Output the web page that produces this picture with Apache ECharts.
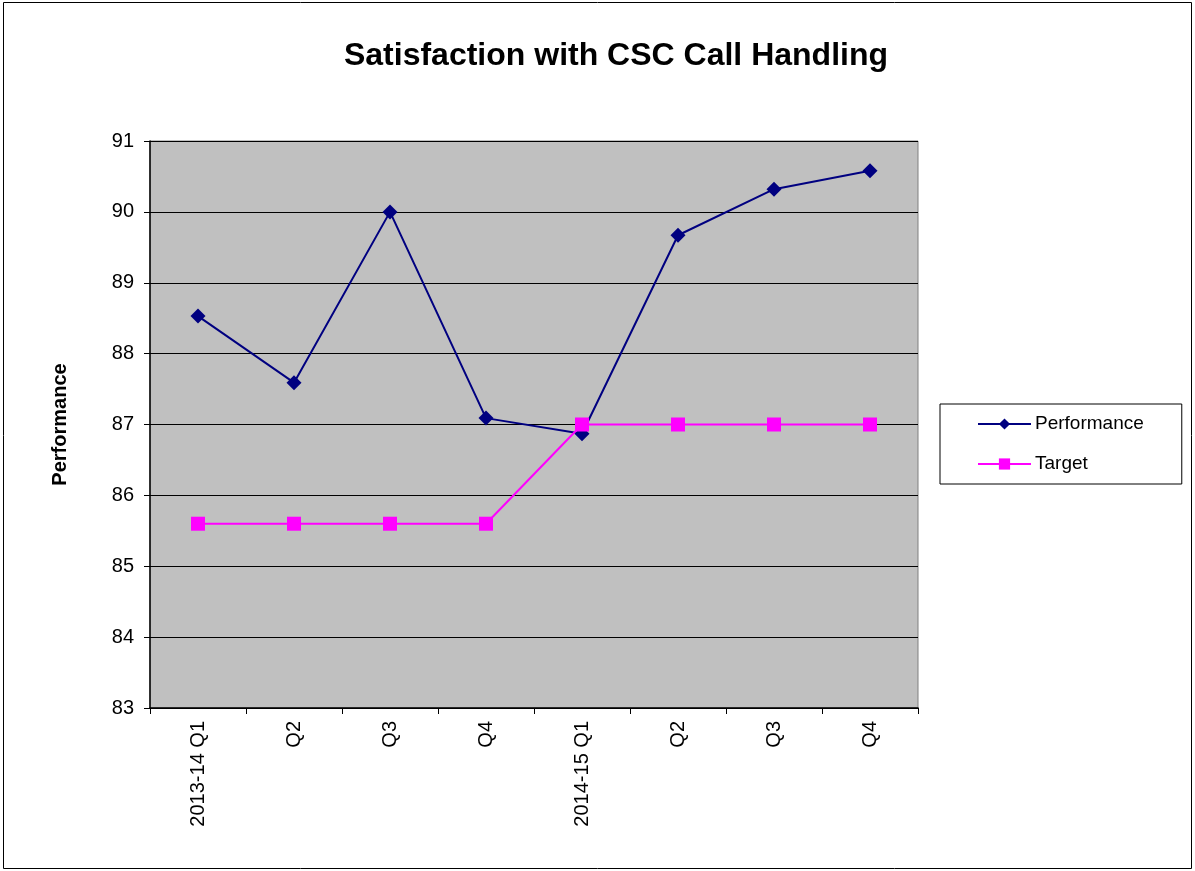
<!DOCTYPE html>
<html>
<head>
<meta charset="utf-8">
<title>Satisfaction with CSC Call Handling</title>
<script src="https://cdn.jsdelivr.net/npm/echarts@6/dist/echarts.min.js"></script>
<style>
  html, body { margin: 0; padding: 0; background: #fff; }
  #chart { width: 1195px; height: 871px; }
</style>
</head>
<body>
<div id="chart"></div>
<script>
// Quarterly call-handling satisfaction versus target
const quarters = ['2013-14 Q1', 'Q2', 'Q3', 'Q4', '2014-15 Q1', 'Q2', 'Q3', 'Q4'];
const performance = [88.53, 87.59, 90.0, 87.09, 86.87, 89.67, 90.32, 90.58];
const target = [85.6, 85.6, 85.6, 85.6, 87.0, 87.0, 87.0, 87.0];
const yTicks = { min: 83, max: 91, step: 1 };

const font = '"Liberation Sans", Arial, sans-serif';
const chart = echarts.init(document.getElementById('chart'), null, { renderer: 'canvas' });

chart.setOption({
  backgroundColor: '#ffffff',
  animation: false,
  title: {
    text: 'Satisfaction with CSC Call Handling',
    left: 611,
    top: 35,
    textAlign: 'center',
    textStyle: { fontFamily: font, fontSize: 32, fontWeight: 'bold', color: '#000' }
  },
  graphic: [{
    type: 'rect',
    shape: { x: 3.5, y: 2.5, width: 1188, height: 866 },
    style: { fill: 'none', stroke: '#000', lineWidth: 1 },
    silent: true,
    z: -1
  }],
  legend: {
    orient: 'vertical',
    left: 940,
    top: 404,
    padding: [10, 38, 10, 37],
    itemGap: 20,
    itemWidth: 53,
    itemHeight: 14,
    backgroundColor: '#fff',
    borderColor: '#000',
    borderWidth: 1,
    borderRadius: 0,
    textStyle: { fontFamily: font, fontSize: 19, color: '#000', lineHeight: 20, padding: [0, 0, 0, -1] },
    data: ['Performance', 'Target']
  },
  grid: {
    left: 150,
    top: 141,
    width: 768,
    height: 567,
    show: true,
    backgroundColor: '#c0c0c0',
    borderColor: '#808080',
    borderWidth: 1
  },
  xAxis: {
    type: 'category',
    data: quarters,
    boundaryGap: true,
    axisLine: { show: true, lineStyle: { color: '#000', width: 1.5 } },
    axisTick: { show: true, length: 6, alignWithLabel: false, lineStyle: { color: '#000' } },
    axisLabel: {
      rotate: 90,
      margin: 13,
      interval: 0,
      fontFamily: font,
      fontSize: 20,
      color: '#000'
    },
    splitLine: { show: false }
  },
  yAxis: {
    type: 'value',
    min: yTicks.min,
    max: yTicks.max,
    interval: yTicks.step,
    name: 'Performance',
    nameLocation: 'middle',
    nameRotate: 90,
    nameGap: 80,
    nameTextStyle: { fontFamily: font, fontSize: 20, fontWeight: 'bold', color: '#000' },
    axisLine: { show: true, lineStyle: { color: '#000', width: 1.5 } },
    axisTick: { show: true, length: 6, inside: false, lineStyle: { color: '#000' } },
    axisLabel: { fontFamily: font, fontSize: 20, color: '#000', margin: 16 },
    splitLine: { show: true, lineStyle: { color: '#000', width: 1 } }
  },
  series: [
    {
      name: 'Performance',
      type: 'line',
      data: performance,
      symbol: 'diamond',
      symbolSize: 15,
      lineStyle: { color: '#000080', width: 2 },
      itemStyle: { color: '#000080' },
      z: 3
    },
    {
      name: 'Target',
      type: 'line',
      data: target,
      symbol: 'rect',
      symbolSize: 14,
      lineStyle: { color: '#ff00ff', width: 2 },
      itemStyle: { color: '#ff00ff' },
      z: 4
    }
  ]
});
</script>
</body>
</html>
